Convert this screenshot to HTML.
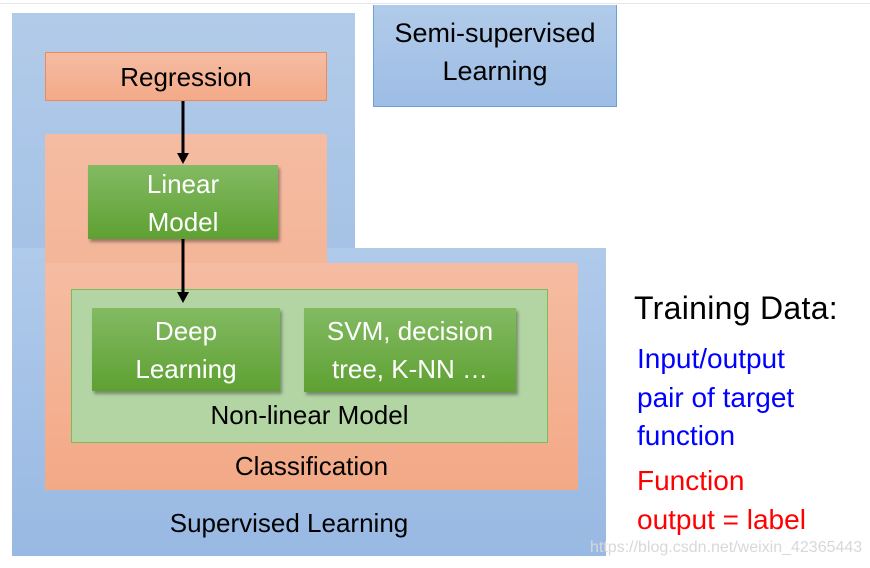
<!DOCTYPE html>
<html><head><style>
body{margin:0;width:870px;height:568px;background:#fff;position:relative;overflow:hidden;font-family:"Liberation Sans",sans-serif;}
div{position:absolute;box-sizing:border-box;}
.t{text-align:center;color:#000;font-size:25px;line-height:38px;}
.blue{background:linear-gradient(#b1cbe9,#9dbde5);}
.sal{background:linear-gradient(#f5bca3,#f3aa88);}
.g{background:linear-gradient(#83ba63,#5ea132);color:#fff;box-shadow:2px 3px 3px rgba(0,0,0,.35);}
</style></head><body>
<div style="left:0;top:3px;width:870px;height:1px;background:#e6e6e6"></div>
<div class="blue" style="left:12px;top:13px;width:343px;height:240px;background:linear-gradient(#b2cbe9,#a5c2e6)"></div>
<div style="left:12px;top:248px;width:594px;height:308px;background:linear-gradient(#b0caea,#98b9e3)"></div>
<div class="blue" style="left:373px;top:5px;width:244px;height:102px;border:1px solid #6f9fd8;border-top:none"></div>
<div class="t" style="left:373px;top:14px;width:244px;font-size:27px">Semi-supervised<br>Learning</div>
<div class="sal" style="left:45px;top:52px;width:282px;height:49px;border:1px solid #f08a55"></div>
<div class="t" style="left:45px;top:58px;width:282px;font-size:26px">Regression</div>
<div style="left:45px;top:134px;width:282px;height:140px;background:linear-gradient(#f5bca3,#f3b597)"></div>
<div style="left:45px;top:263px;width:533px;height:227px;background:linear-gradient(#f5bca3,#f3a986)"></div>
<div style="left:71px;top:289px;width:477px;height:154px;background:#b3d5a4;border:1px solid #7cbb5a"></div>
<div class="g t" style="left:88px;top:165px;width:190px;height:74px;color:#fff;font-size:26px">Linear<br>Model</div>
<div class="g t" style="left:92px;top:308px;width:188px;height:83px;color:#fff;padding-top:4px;font-size:26px">Deep<br>Learning</div>
<div class="g t" style="left:304px;top:308px;width:212px;height:84px;color:#fff;padding-top:4px;font-size:26px">SVM, decision<br>tree, K-NN …</div>
<div class="t" style="left:71px;top:396px;width:477px;font-size:26px">Non-linear Model</div>
<div class="t" style="left:45px;top:447px;width:533px;font-size:26px">Classification</div>
<div class="t" style="left:12px;top:504px;width:554px;font-size:26px">Supervised Learning</div>
<svg style="position:absolute;left:0;top:0" width="870" height="568">
<line x1="183" y1="101" x2="183" y2="155" stroke="#000" stroke-width="3"/>
<polygon points="177,153 189,153 183,164" fill="#000"/>
<line x1="183" y1="239" x2="183" y2="294" stroke="#000" stroke-width="3"/>
<polygon points="177,292 189,292 183,303" fill="#000"/>
</svg>
<div style="left:634px;top:288px;font-size:32px;line-height:40px;letter-spacing:0.3px">Training Data:</div>
<div style="left:637px;top:340px;font-size:28px;line-height:38.5px;color:#0000ff">Input/output<br>pair of target<br>function</div>
<div style="left:637px;top:462px;font-size:28px;line-height:38.5px;color:#ff0000">Function<br>output = label</div>
<div style="left:590px;top:539px;font-size:16px;color:#d8d8d8">https://blog.csdn.net/weixin_42365443</div>
</body></html>
